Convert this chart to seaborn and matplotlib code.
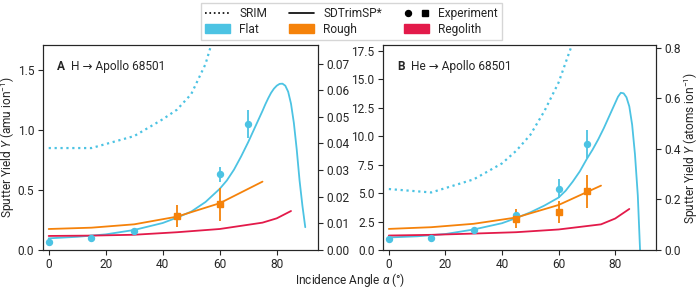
import numpy as np
import matplotlib
matplotlib.use("Agg")
import matplotlib.pyplot as plt
import seaborn as sns
from matplotlib.lines import Line2D
from matplotlib.patches import Patch
from matplotlib.legend_handler import HandlerTuple

sns.set_style("ticks")
plt.rcParams["font.family"] = ["Roboto", "DejaVu Sans"]
plt.rcParams["mathtext.fontset"] = "custom"
plt.rcParams["mathtext.rm"] = "Roboto"
plt.rcParams["mathtext.it"] = "Roboto:italic"
plt.rcParams["mathtext.bf"] = "Roboto:bold"
FS = 8.6
plt.rcParams["font.size"] = FS

FLAT = "#4cc3e3"
ROUGH = "#f5820a"
REGO = "#e31a4a"
AMU_PER_ATOM = 22.2

# ---- panel A: H -> Apollo 68501 (amu/ion)
h_srim_ang = [0, 15, 30, 40, 45, 50, 55, 60]
h_srim = [0.85, 0.85, 0.95, 1.09, 1.17, 1.30, 1.55, 1.95]
h_flat_ang = [0, 10, 20, 30, 40, 45, 50, 55, 60, 62.5, 65, 67.5, 70, 72.5, 75, 76, 77, 78, 79, 80,
              81, 82, 83, 84, 85, 86, 87, 88, 89, 90]
h_flat = [0.097, 0.11, 0.13, 0.167, 0.225, 0.27, 0.32, 0.40, 0.51, 0.58, 0.67, 0.78, 0.90, 1.03, 1.16,
          1.215, 1.265, 1.31, 1.345, 1.37, 1.385, 1.387, 1.37, 1.32, 1.22, 1.06, 0.84, 0.58, 0.37, 0.19]
h_rough_ang = [0, 15, 30, 45, 60, 75]
h_rough = [0.175, 0.186, 0.214, 0.278, 0.39, 0.57]
h_rego_ang = [0, 15, 30, 45, 60, 75, 80, 85]
h_rego = [0.117, 0.12, 0.127, 0.148, 0.175, 0.228, 0.264, 0.325]
h_exp_flat_ang = [0, 15, 30, 45, 60, 70]
h_exp_flat = [0.07, 0.10, 0.16, 0.28, 0.63, 1.05]
h_exp_flat_err = [0.0, 0.0, 0.0, 0.03, 0.065, 0.115]
h_exp_rough_ang = [45, 60]
h_exp_rough = [0.283, 0.38]
h_exp_rough_err = [0.09, 0.135]

# ---- panel B: He -> Apollo 68501 (amu/ion)
he_srim_ang = [0, 15, 30, 40, 45, 50, 55, 60, 65]
he_srim = [5.35, 5.05, 6.2, 7.6, 8.7, 10.1, 12.2, 14.7, 18.2]
he_flat_ang = [0, 10, 20, 30, 40, 45, 50, 55, 60, 62.5, 65, 67.5, 70, 72, 74, 76, 78, 79, 80, 81, 82,
               83, 84, 85, 86, 87, 88, 88.8, 90]
he_flat = [1.1, 1.2, 1.4, 1.8, 2.35, 2.8, 3.3, 3.9, 4.6, 5.2, 6.0, 6.9, 8.0, 8.8, 9.7, 10.7, 11.8,
           12.35, 12.9, 13.45, 13.8, 13.75, 13.4, 12.6, 11.0, 8.4, 4.8, 0.0, -5.0]
he_rough_ang = [0, 15, 30, 45, 60, 75]
he_rough = [1.85, 2.0, 2.3, 2.85, 3.95, 5.65]
he_rego_ang = [0, 15, 30, 45, 60, 75, 80, 85]
he_rego = [1.27, 1.33, 1.44, 1.56, 1.8, 2.25, 2.76, 3.6]
he_exp_flat_ang = [0, 15, 30, 45, 60, 70]
he_exp_flat = [0.98, 1.07, 1.77, 3.03, 5.37, 9.3]
he_exp_flat_err = [0.0, 0.0, 0.0, 0.4, 0.82, 1.2]
he_exp_rough_ang = [45, 60, 70]
he_exp_rough = [2.76, 3.35, 5.16]
he_exp_rough_err = [0.8, 0.98, 1.45]


def draw(ax, srim_a, srim, flat_a, flat, rough_a, rough, rego_a, rego,
         ef_a, ef, ef_err, er_a, er, er_err, ytop, letter, title):
    sns.lineplot(x=srim_a, y=srim, ax=ax, color=FLAT, linestyle=":", lw=1.6)
    sns.lineplot(x=flat_a, y=flat, ax=ax, color=FLAT, lw=1.3)
    sns.lineplot(x=rough_a, y=rough, ax=ax, color=ROUGH, lw=1.3)
    sns.lineplot(x=rego_a, y=rego, ax=ax, color=REGO, lw=1.3)
    ax.errorbar(ef_a, ef, yerr=ef_err, fmt="o", color=FLAT, ms=4.3, elinewidth=1.3, capsize=0)
    ax.errorbar(er_a, er, yerr=er_err, fmt="s", color=ROUGH, ms=4.3, elinewidth=1.3, capsize=0)
    ax.set_xlim(-2.1, 94.4)
    ax.set_ylim(0, ytop)
    ax.set_xticks([0, 20, 40, 60, 80])
    lt = ax.text(0.052, 0.925, letter, transform=ax.transAxes, va="top", ha="left",
                 fontsize=FS, fontweight="bold")
    ax.annotate(title, xy=(1, 0), xycoords=lt, xytext=(4.5, 0), textcoords="offset points",
                va="bottom", ha="left", fontsize=FS)
    tw = ax.twinx()
    tw.set_ylim(0, ytop / AMU_PER_ATOM)
    return tw


fig = plt.figure(figsize=(7.0, 2.88), dpi=100)
axA = fig.add_axes([0.061, 0.132, 0.393, 0.712])
axB = fig.add_axes([0.547, 0.132, 0.390, 0.712])

twA = draw(axA, h_srim_ang, h_srim, h_flat_ang, h_flat, h_rough_ang, h_rough, h_rego_ang, h_rego,
           h_exp_flat_ang, h_exp_flat, h_exp_flat_err, h_exp_rough_ang, h_exp_rough, h_exp_rough_err,
           1.71, "A", "H → Apollo 68501")
twB = draw(axB, he_srim_ang, he_srim, he_flat_ang, he_flat, he_rough_ang, he_rough, he_rego_ang, he_rego,
           he_exp_flat_ang, he_exp_flat, he_exp_flat_err, he_exp_rough_ang, he_exp_rough, he_exp_rough_err,
           18.0, "B", "He → Apollo 68501")

axA.set_yticks([0.0, 0.5, 1.0, 1.5])
twA.set_yticks(np.arange(0, 0.071, 0.01))
twA.set_yticklabels([f"{v:.2f}" for v in np.arange(0, 0.071, 0.01)])
axB.set_yticks(np.arange(0, 17.6, 2.5))
twB.set_yticks([0.0, 0.2, 0.4, 0.6, 0.8])

axA.set_ylabel(r"Sputter Yield $Y$ (amu ion$^{-1}$)", labelpad=0.5)
twB.set_ylabel(r"Sputter Yield $Y$ (atoms ion$^{-1}$)", labelpad=1)
fig.text(0.5, 0.028, r"Incidence Angle $\alpha$ (°)", ha="center", va="center", fontsize=FS)

for a in (axA, axB, twA, twB):
    a.tick_params(labelsize=FS, length=3.5, width=0.8, pad=2.5)
    for s in a.spines.values():
        s.set_linewidth(0.8)

handles = [
    Line2D([], [], color="black", linestyle=":", lw=1.2),
    Patch(color=FLAT),
    Line2D([], [], color="black", lw=1.2),
    Patch(color=ROUGH),
    (Line2D([], [], color="black", marker="o", ls="", ms=4.3),
     Line2D([], [], color="black", marker="s", ls="", ms=4.3)),
    Patch(color=REGO),
]
labels = ["SRIM", "Flat", "SDTrimSP*", "Rough", "Experiment", "Regolith"]
fig.legend(handles, labels, loc="upper center", bbox_to_anchor=(0.502, 1.012), ncol=3,
           fontsize=FS, frameon=True, fancybox=False, edgecolor="#cccccc",
           handler_map={tuple: HandlerTuple(ndivide=None, pad=0.6)},
           handlelength=2.1, handletextpad=0.75, columnspacing=1.85, borderpad=0.35,
           labelspacing=0.25)

fig.savefig("out.png", dpi=100)
